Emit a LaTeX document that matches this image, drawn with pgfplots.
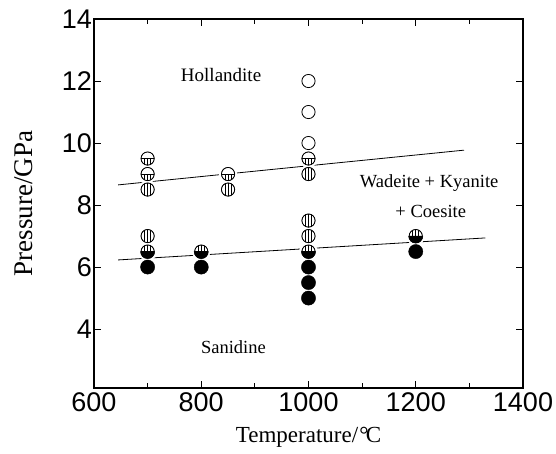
\documentclass[border=0pt]{standalone}
\usepackage{pgfplots}
\pgfplotsset{compat=1.18}
\usepackage{fontspec}
\setmainfont{Liberation Serif}
\newfontfamily\ticksf{Liberation Sans}

\pgfdeclareplotmark{halo}{\fill[white] (0pt,0pt) circle (9pt);}
\pgfdeclareplotmark{openc}{\draw[line width=0.8pt,fill=white] (0pt,0pt) circle (6.6pt);}
\pgfdeclareplotmark{blackc}{\fill[black] (0pt,0pt) circle (7.1pt);}
\pgfdeclareplotmark{stripc}{%
  \fill[white] (0pt,0pt) circle (6.6pt);
  \begin{scope}\clip (0pt,0pt) circle (6.6pt);
    \draw[line width=0.75pt] (-3pt,-7pt)--(-3pt,7pt) (0pt,-7pt)--(0pt,7pt) (3pt,-7pt)--(3pt,7pt);
  \end{scope}
  \draw[line width=0.8pt] (0pt,0pt) circle (6.6pt);}
\pgfdeclareplotmark{halfos}{%
  \fill[white] (0pt,0pt) circle (6.6pt);
  \begin{scope}\clip (0pt,0pt) circle (6.6pt); \clip (-8pt,-8pt) rectangle (8pt,0pt);
    \draw[line width=0.75pt] (-3pt,-7pt)--(-3pt,7pt) (0pt,-7pt)--(0pt,7pt) (3pt,-7pt)--(3pt,7pt);
  \end{scope}
  \draw[line width=0.8pt] (-6.6pt,0pt)--(6.6pt,0pt);
  \draw[line width=0.8pt] (0pt,0pt) circle (6.6pt);}
\pgfdeclareplotmark{halfsb}{%
  \fill[white] (0pt,0pt) circle (6.6pt);
  \begin{scope}\clip (0pt,0pt) circle (6.6pt); \clip (-8pt,0pt) rectangle (8pt,8pt);
    \draw[line width=0.75pt] (-3pt,-7pt)--(-3pt,7pt) (0pt,-7pt)--(0pt,7pt) (3pt,-7pt)--(3pt,7pt);
  \end{scope}
  \fill[black] (7.1pt,0pt) arc (0:-180:7.1pt) -- cycle;
  \draw[line width=0.8pt] (0pt,0pt) circle (6.6pt);}

\begin{document}
\begin{tikzpicture}
\useasboundingbox (-94pt,-65pt) rectangle (462pt,388pt);
\begin{axis}[
  at={(0pt,0pt)}, anchor=south west,
  scale only axis, width=429pt, height=369pt,
  xmin=600, xmax=1400, ymin=2.1, ymax=14,
  xtick={600,800,...,1400}, minor xtick={700,900,1100,1300},
  ytick={4,6,...,14},
  tick align=inside, major tick length=7pt, minor tick length=5pt,
  tick style={line width=0.9pt,black},
  axis line style={line width=1.1pt},
  /pgf/number format/assume math mode=true,
  /pgf/number format/1000 sep={},
  ticklabel style={font=\ticksf\fontsize{27}{30}\selectfont, inner sep=2pt},
  xticklabel style={yshift=-2pt},
  xlabel={Temperature/\kern0.05em°\kern-0.12emC},
  ylabel={Pressure/GPa},
  xlabel style={font=\fontsize{23}{26}\selectfont, at={(axis description cs:0.5,-0.133)}, anchor=center},
  ylabel style={font=\fontsize{27}{30}\selectfont, at={(axis description cs:-0.165,0.5)}, anchor=center},
  clip=false,
]
\addplot[line width=0.8pt] coordinates {(645,8.65) (1290,9.77)};
\addplot[line width=0.8pt] coordinates {(645,6.23) (1330,6.94)};
\addplot[only marks, mark=halo] coordinates {
  (1000,12)(1000,11)(1000,10)
  (700,9.5)(700,9)(850,9)(1000,9.5)
  (700,8.5)(850,8.5)(1000,9)(700,7)(1000,7.5)(1000,7)
  (700,6.5)(800,6.5)(1000,6.5)(1200,7)
  (700,6)(800,6)(1000,6)(1000,5.5)(1000,5)(1200,6.5)};
\addplot[only marks, mark=openc] coordinates {(1000,12)(1000,11)(1000,10)};
\addplot[only marks, mark=halfos] coordinates {(700,9.5)(700,9)(850,9)(1000,9.5)};
\addplot[only marks, mark=stripc] coordinates {(700,8.5)(850,8.5)(1000,9)(700,7)(1000,7.5)(1000,7)};
\addplot[only marks, mark=halfsb] coordinates {(700,6.5)(800,6.5)(1000,6.5)(1200,7)};
\addplot[only marks, mark=blackc] coordinates {(700,6)(800,6)(1000,6)(1000,5.5)(1000,5)(1200,6.5)};
\node[font=\fontsize{19}{22}\selectfont] at (axis cs:837,12.2) {Hollandite};
\node[font=\fontsize{18.5}{22}\selectfont] at (axis cs:1225,8.72) {Wadeite + Kyanite};
\node[font=\fontsize{18.5}{22}\selectfont] at (axis cs:1228,7.78) {+ Coesite};
\node[font=\fontsize{18.5}{22}\selectfont] at (axis cs:860,3.42) {Sanidine};
\end{axis}
\end{tikzpicture}
\end{document}
